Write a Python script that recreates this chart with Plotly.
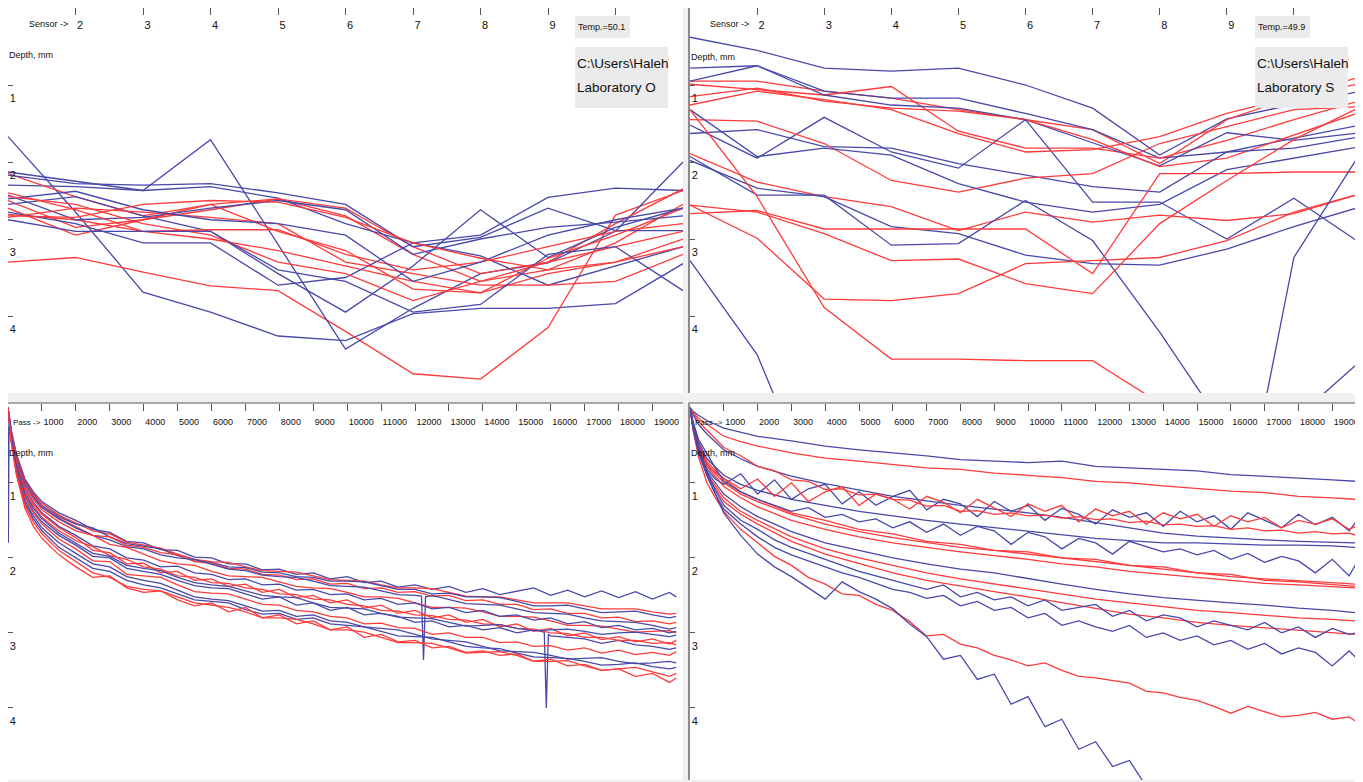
import plotly.graph_objects as go

W, H = 1363, 782
OFF = 8  # page offset of the figure inside the browser page
FONT = "Liberation Sans, Arial, sans-serif"
BLUE = "#4848aa"
RED = "#ff3a3a"

# ---------------- top panels: depth per sensor ----------------
SENSORS = [1, 2, 3, 4, 5, 6, 7, 8, 9, 10, 11]
SENSOR_TICKS = [2, 3, 4, 5, 6, 7, 8, 9, 10]
SENSOR_TICK_TEXT = ["2", "3", "4", "5", "6", "7", "8", "9", ""]  # "10" sits under the Temp box
DEPTH_TICKS = [1, 2, 3, 4]

TL_BLUE = [
    [1.67, 2.65, 3.69, 3.95, 4.26, 4.32, 3.97, 3.90, 3.90, 3.84, 3.32],
    [2.30, 2.32, 2.37, 1.71, 3.07, 4.43, 3.90, 3.45, 3.31, 2.90, 2.00],
    [2.13, 2.25, 2.37, 2.32, 2.47, 2.80, 3.05, 2.95, 2.46, 2.34, 2.37],
    [2.55, 2.45, 2.70, 2.90, 3.45, 3.95, 3.35, 2.62, 3.24, 2.85, 2.60],
    [2.17, 2.28, 2.30, 2.28, 2.40, 2.55, 3.10, 2.98, 2.60, 2.89, 2.89],
    [2.43, 2.75, 2.72, 2.60, 2.50, 2.62, 3.20, 3.00, 2.85, 2.78, 2.70],
    [2.65, 2.80, 3.05, 3.05, 3.60, 3.50, 3.05, 3.22, 3.60, 3.35, 3.10],
    [2.48, 2.38, 2.62, 2.75, 2.80, 2.95, 3.55, 3.30, 2.95, 2.75, 2.60],
    [2.75, 2.90, 2.90, 2.90, 3.40, 3.55, 3.95, 3.85, 3.20, 3.10, 3.67],
]
TL_RED = [
    [3.30, 3.24, 3.43, 3.61, 3.67, 4.20, 4.75, 4.82, 4.15, 2.69, 2.37],
    [2.15, 2.45, 2.70, 2.55, 2.48, 2.70, 3.20, 3.55, 3.40, 3.05, 2.55],
    [2.50, 2.85, 2.75, 2.62, 2.48, 2.60, 3.10, 3.45, 3.30, 2.80, 2.35],
    [2.68, 2.75, 2.90, 2.88, 2.88, 3.20, 3.40, 3.30, 3.10, 2.90, 2.80],
    [2.60, 2.95, 2.75, 2.55, 2.90, 3.15, 3.65, 3.70, 3.25, 2.95, 2.60],
    [2.40, 2.62, 2.90, 3.00, 3.15, 3.35, 3.55, 3.70, 3.45, 3.30, 3.00],
    [2.72, 2.60, 2.65, 2.72, 2.80, 3.30, 3.45, 3.60, 3.60, 3.55, 3.20],
    [2.45, 2.55, 2.80, 2.95, 3.30, 3.45, 3.80, 3.55, 3.30, 3.10, 2.90],
    [2.70, 2.72, 2.55, 2.50, 2.52, 2.72, 3.05, 3.25, 3.40, 3.30, 3.10],
]

TR_BLUE = [
    [0.38, 0.55, 0.78, 0.82, 0.78, 1.00, 1.30, 1.91, 1.44, 1.25, 1.08],
    [0.78, 0.75, 1.08, 1.17, 1.17, 1.37, 1.58, 1.95, 1.87, 1.69, 1.52],
    [0.95, 0.75, 1.13, 1.26, 1.30, 1.45, 1.75, 2.05, 1.62, 1.72, 1.62],
    [1.52, 1.95, 1.42, 1.87, 2.08, 1.45, 2.52, 2.52, 3.00, 2.47, 3.06],
    [1.63, 1.58, 1.80, 1.82, 2.02, 2.17, 2.32, 2.39, 1.87, 1.82, 1.67],
    [1.32, 1.93, 1.82, 1.91, 2.28, 2.52, 2.65, 2.55, 2.10, 1.95, 1.80],
    [1.98, 2.34, 2.45, 2.84, 2.93, 3.21, 3.32, 3.34, 3.13, 2.84, 2.58],
    [1.93, 2.43, 2.43, 3.08, 3.06, 2.50, 3.02, 4.21, 5.50, 5.35, 4.58],
    [3.28, 4.50, 6.60, 7.50, 7.80, 8.00, 8.00, 8.00, 7.64, 3.24, 1.87],
]
TR_RED = [
    [0.95, 0.95, 1.08, 1.17, 1.32, 1.45, 1.58, 2.02, 1.45, 1.15, 0.89],
    [0.99, 1.06, 1.13, 1.02, 1.60, 1.82, 1.82, 1.95, 1.72, 1.45, 1.20],
    [1.15, 1.04, 1.21, 1.30, 1.34, 1.45, 1.71, 2.06, 1.95, 1.65, 1.35],
    [1.26, 1.08, 1.19, 1.32, 1.63, 1.87, 1.84, 1.67, 1.37, 1.15, 0.98],
    [1.45, 1.47, 1.76, 2.24, 2.39, 2.21, 2.15, 1.76, 1.54, 1.32, 1.28],
    [1.89, 2.26, 2.45, 2.58, 2.89, 2.65, 2.78, 2.69, 2.76, 2.67, 2.41],
    [2.56, 2.99, 3.78, 3.80, 3.71, 3.32, 3.28, 3.24, 3.02, 2.65, 2.41],
    [2.67, 2.63, 2.87, 2.87, 2.87, 2.87, 3.45, 2.15, 2.15, 2.13, 2.13],
    [2.56, 2.65, 2.93, 3.28, 3.26, 3.58, 3.71, 2.80, 2.24, 1.71, 1.28],
    [1.32, 2.45, 3.89, 4.56, 4.56, 4.58, 4.58, 5.13, 5.80, 6.00, 6.00],
]

# ---------------- bottom panels: depth per pass ----------------
PASS_TICKS = list(range(1000, 20000, 1000))
PASS_COARSE = [0, 100, 250, 500, 1000, 1500, 2000, 3000, 4000, 5000, 6000, 7000,
               8000, 9000, 10000, 11000, 12000, 13000, 14000, 15000, 16000, 17000,
               18000, 19000, 19700]
PASS_FINE = [0, 100, 250, 500, 750, 1000, 1500, 2000, 2500, 3000, 3500, 4000, 4500,
             5000, 5500, 6000, 6500, 7000, 7500, 8000, 8500, 9000, 9500, 10000,
             10500, 11000, 11500, 12000, 12500, 13000, 13500, 14000, 14500, 15000,
             15500, 16000, 16500, 17000, 17500, 18000, 18500, 19000, 19500, 19700]

BL_BLUE = [
    [0, 0.30, 0.62, 0.95, 1.12, 1.25, 1.40, 1.50, 1.62, 1.66, 1.78, 1.80, 1.89, 1.90, 1.99, 2.00, 2.08, 2.08, 2.16, 2.15, 2.22, 2.20, 2.28, 2.25, 2.33, 2.31, 2.39, 2.36, 2.42, 2.38, 2.46, 2.41, 2.49, 2.45, 2.40, 2.50, 2.43, 2.52, 2.44, 2.53, 2.45, 2.55, 2.46, 2.52],
    [0, 0.33, 0.65, 0.98, 1.16, 1.30, 1.45, 1.55, 1.60, 1.72, 1.81, 1.85, 1.88, 1.97, 2.04, 2.06, 2.12, 2.13, 2.19, 2.20, 2.25, 2.26, 2.31, 2.31, 2.32, 2.37, 2.42, 2.42, 2.48, 2.47, 2.52, 2.52, 2.53, 2.58, 2.64, 2.64, 2.63, 2.68, 2.73, 2.72, 2.71, 2.76, 2.80, 2.78],
    [0, 0.35, 0.68, 1.02, 1.20, 1.33, 1.48, 1.60, 1.70, 1.76, 1.85, 1.88, 1.96, 2.00, 2.02, 2.09, 2.15, 2.17, 2.23, 2.25, 2.26, 2.31, 2.37, 2.38, 2.39, 2.44, 2.49, 2.50, 2.50, 2.55, 2.61, 2.62, 2.63, 2.68, 2.73, 2.74, 2.75, 2.80, 2.84, 2.85, 2.86, 2.90, 2.95, 2.93],
    [0, 0.38, 0.72, 1.08, 1.26, 1.40, 1.58, 1.70, 1.84, 1.88, 2.00, 2.03, 2.12, 2.11, 2.20, 2.22, 2.29, 2.28, 2.36, 2.35, 2.43, 2.42, 2.49, 2.48, 2.56, 2.54, 2.62, 2.60, 2.68, 2.66, 2.73, 2.70, 2.78, 2.76, 2.83, 2.80, 2.88, 2.85, 2.93, 2.90, 2.96, 2.94, 3.00, 2.98],
    [0, 0.42, 0.80, 1.18, 1.38, 1.52, 1.70, 1.83, 1.98, 2.00, 2.14, 2.18, 2.22, 2.30, 2.37, 2.40, 2.41, 2.48, 2.55, 2.52, 2.63, 2.60, 2.70, 2.66, 2.76, 2.74, 2.78, 2.86, 2.84, 2.92, 2.90, 2.96, 2.93, 3.00, 2.96, 3.04, 3.06, 3.08, 3.14, 3.10, 3.16, 3.18, 3.22, 3.20],
    [0, 0.44, 0.84, 1.24, 1.44, 1.60, 1.80, 1.94, 2.08, 2.12, 2.25, 2.30, 2.34, 2.43, 2.52, 2.55, 2.57, 2.64, 2.71, 2.70, 2.78, 2.76, 2.84, 2.86, 2.92, 2.94, 2.96, 3.02, 3.08, 3.10, 3.12, 3.18, 3.24, 3.25, 3.26, 3.30, 3.35, 3.34, 3.33, 3.38, 3.41, 3.40, 3.38, 3.40],
    [0, 0.45, 0.86, 1.27, 1.48, 1.64, 1.86, 2.00, 2.14, 2.18, 2.30, 2.36, 2.40, 2.48, 2.56, 2.58, 2.60, 2.69, 2.75, 2.74, 2.82, 2.80, 2.88, 2.90, 2.92, 2.98, 3.04, 3.05, 3.06, 3.12, 3.18, 3.20, 3.21, 3.27, 3.32, 3.33, 3.34, 3.38, 3.43, 3.42, 3.40, 3.45, 3.48, 3.46],
    [0, 0.40, 0.78, 1.15, 1.34, 1.48, 1.67, 1.80, 1.94, 1.98, 2.10, 2.14, 2.17, 2.26, 2.33, 2.36, 2.38, 2.44, 2.50, 2.52, 2.53, 2.60, 2.66, 2.67, 2.68, 2.74, 2.79, 2.80, 2.81, 2.86, 2.91, 2.90, 2.89, 2.94, 2.97, 2.96, 2.95, 2.98, 3.02, 3.00, 2.99, 3.02, 3.05, 3.03],
]
BL_RED = [
    [0, 0.32, 0.63, 0.97, 1.14, 1.27, 1.43, 1.53, 1.64, 1.68, 1.79, 1.83, 1.87, 1.95, 2.02, 2.05, 2.06, 2.12, 2.17, 2.18, 2.19, 2.24, 2.29, 2.30, 2.31, 2.36, 2.40, 2.40, 2.41, 2.46, 2.51, 2.52, 2.52, 2.56, 2.60, 2.60, 2.60, 2.64, 2.68, 2.68, 2.68, 2.72, 2.75, 2.74],
    [0, 0.34, 0.66, 1.00, 1.18, 1.32, 1.47, 1.58, 1.70, 1.72, 1.83, 1.86, 1.93, 1.96, 2.05, 2.07, 2.14, 2.15, 2.22, 2.23, 2.29, 2.28, 2.35, 2.34, 2.41, 2.40, 2.46, 2.45, 2.51, 2.50, 2.57, 2.56, 2.62, 2.62, 2.69, 2.68, 2.74, 2.74, 2.80, 2.79, 2.85, 2.84, 2.88, 2.86],
    [0, 0.36, 0.70, 1.05, 1.22, 1.36, 1.52, 1.64, 1.70, 1.82, 1.86, 1.95, 2.04, 2.08, 2.10, 2.18, 2.24, 2.25, 2.26, 2.32, 2.38, 2.40, 2.41, 2.46, 2.52, 2.52, 2.54, 2.60, 2.66, 2.66, 2.67, 2.72, 2.78, 2.78, 2.79, 2.84, 2.90, 2.90, 2.91, 2.95, 2.99, 2.98, 2.97, 3.00],
    [0, 0.38, 0.74, 1.10, 1.28, 1.42, 1.60, 1.73, 1.90, 1.93, 2.08, 2.07, 2.20, 2.18, 2.30, 2.28, 2.38, 2.35, 2.46, 2.42, 2.53, 2.50, 2.60, 2.56, 2.67, 2.63, 2.74, 2.70, 2.80, 2.76, 2.86, 2.82, 2.92, 2.88, 2.98, 2.94, 3.04, 3.00, 3.09, 3.05, 3.12, 3.08, 3.15, 3.10],
    [0, 0.40, 0.76, 1.13, 1.31, 1.46, 1.64, 1.77, 1.85, 1.97, 2.02, 2.12, 2.15, 2.24, 2.26, 2.33, 2.34, 2.40, 2.42, 2.48, 2.49, 2.55, 2.56, 2.62, 2.64, 2.70, 2.71, 2.76, 2.77, 2.82, 2.83, 2.88, 2.89, 2.94, 2.95, 3.00, 3.01, 3.06, 3.06, 3.10, 3.10, 3.14, 3.13, 3.16],
    [0, 0.42, 0.82, 1.20, 1.40, 1.55, 1.75, 1.88, 2.04, 2.05, 2.22, 2.24, 2.26, 2.36, 2.45, 2.47, 2.48, 2.55, 2.62, 2.63, 2.70, 2.72, 2.78, 2.80, 2.88, 2.87, 2.93, 2.94, 3.02, 3.00, 3.06, 3.06, 3.13, 3.12, 3.18, 3.17, 3.23, 3.20, 3.27, 3.23, 3.29, 3.26, 3.30, 3.25],
    [0, 0.46, 0.88, 1.30, 1.52, 1.68, 1.90, 2.05, 2.20, 2.26, 2.38, 2.42, 2.44, 2.52, 2.60, 2.63, 2.66, 2.72, 2.80, 2.80, 2.82, 2.88, 2.96, 2.96, 2.99, 3.06, 3.13, 3.13, 3.14, 3.20, 3.27, 3.26, 3.25, 3.30, 3.38, 3.38, 3.37, 3.44, 3.50, 3.48, 3.46, 3.52, 3.58, 3.54],
    [0, 0.48, 0.90, 1.34, 1.58, 1.74, 1.96, 2.12, 2.26, 2.24, 2.40, 2.46, 2.44, 2.56, 2.64, 2.60, 2.72, 2.66, 2.80, 2.76, 2.88, 2.84, 2.96, 2.92, 3.06, 3.02, 3.12, 3.10, 3.20, 3.18, 3.26, 3.24, 3.30, 3.28, 3.38, 3.35, 3.44, 3.42, 3.50, 3.48, 3.58, 3.54, 3.66, 3.60],
]
# extra readings on individual blue curves (curve index, [(pass, depth), ...])
BL_SPIKES = [
    (2, [(12190, 2.51), (12250, 3.36), (12310, 2.52)]),
    (4, [(15810, 2.99), (15870, 4.00), (15930, 3.02)]),
    (5, [(10, 1.80), (30, 0.25)]),
]

BR_BLUE_COARSE = [
    [0, 0.05, 0.10, 0.17, 0.27, 0.33, 0.38, 0.44, 0.51, 0.56, 0.60, 0.64, 0.69, 0.71, 0.73, 0.71, 0.78, 0.80, 0.82, 0.84, 0.89, 0.91, 0.93, 0.96, 0.98],
    [0, 0.10, 0.22, 0.35, 0.56, 0.68, 0.78, 0.91, 1.01, 1.10, 1.18, 1.24, 1.30, 1.35, 1.40, 1.46, 1.53, 1.60, 1.67, 1.71, 1.74, 1.76, 1.78, 1.79, 1.80],
    [0, 0.22, 0.45, 0.68, 0.90, 1.02, 1.10, 1.22, 1.30, 1.38, 1.44, 1.50, 1.55, 1.60, 1.65, 1.70, 1.74, 1.77, 1.80, 1.80, 1.82, 1.83, 1.83, 1.84, 1.86],
    [0, 0.27, 0.55, 0.85, 1.15, 1.32, 1.45, 1.65, 1.80, 1.90, 2.00, 2.08, 2.15, 2.20, 2.28, 2.35, 2.42, 2.48, 2.53, 2.57, 2.60, 2.63, 2.67, 2.70, 2.73],
]
BR_RED_COARSE = [
    [0, 0.07, 0.14, 0.22, 0.38, 0.45, 0.51, 0.60, 0.67, 0.71, 0.76, 0.80, 0.82, 0.87, 0.90, 0.93, 0.98, 1.00, 1.04, 1.07, 1.11, 1.13, 1.18, 1.20, 1.22],
    [0, 0.25, 0.50, 0.75, 1.00, 1.15, 1.25, 1.42, 1.55, 1.65, 1.73, 1.80, 1.86, 1.90, 1.95, 2.00, 2.05, 2.10, 2.15, 2.20, 2.25, 2.28, 2.30, 2.33, 2.35],
    [0, 0.26, 0.52, 0.78, 1.05, 1.20, 1.32, 1.50, 1.62, 1.72, 1.80, 1.86, 1.92, 1.97, 2.02, 2.08, 2.12, 2.18, 2.22, 2.26, 2.30, 2.34, 2.36, 2.38, 2.40],
    [0, 0.24, 0.48, 0.72, 0.95, 1.12, 1.22, 1.40, 1.50, 1.62, 1.68, 1.78, 1.82, 1.90, 1.92, 2.00, 2.02, 2.10, 2.12, 2.20, 2.22, 2.30, 2.32, 2.36, 2.38],
    [0, 0.28, 0.57, 0.88, 1.20, 1.38, 1.50, 1.72, 1.88, 2.00, 2.10, 2.20, 2.28, 2.35, 2.42, 2.48, 2.55, 2.60, 2.65, 2.70, 2.73, 2.77, 2.80, 2.82, 2.84],
    [0, 0.29, 0.58, 0.90, 1.25, 1.42, 1.55, 1.78, 1.95, 2.08, 2.20, 2.30, 2.38, 2.45, 2.52, 2.60, 2.67, 2.75, 2.80, 2.86, 2.90, 2.93, 2.96, 3.00, 3.02],
]
BR_BLUE_FINE = [
    [0, 0.30, 0.58, 0.82, 0.95, 1.02, 0.88, 1.15, 0.96, 1.22, 1.08, 1.02, 1.28, 1.12, 1.30, 1.18, 1.10, 1.36, 1.22, 1.28, 1.45, 1.25, 1.38, 1.30, 1.50, 1.34, 1.42, 1.55, 1.36, 1.46, 1.40, 1.58, 1.38, 1.52, 1.44, 1.62, 1.40, 1.50, 1.60, 1.42, 1.56, 1.46, 1.64, 1.52],
    [0, 0.20, 0.42, 0.62, 0.80, 0.98, 1.12, 1.22, 1.30, 1.38, 1.33, 1.46, 1.42, 1.52, 1.48, 1.60, 1.52, 1.66, 1.55, 1.70, 1.58, 1.64, 1.82, 1.66, 1.72, 1.88, 1.74, 1.80, 1.95, 1.78, 1.85, 1.92, 1.88, 1.96, 1.90, 2.02, 1.94, 2.06, 1.98, 2.04, 2.20, 2.02, 2.24, 2.08],
    [0, 0.25, 0.50, 0.85, 1.10, 1.30, 1.50, 1.62, 1.76, 1.86, 1.94, 2.02, 2.10, 2.18, 2.24, 2.30, 2.36, 2.42, 2.36, 2.52, 2.46, 2.56, 2.52, 2.64, 2.56, 2.70, 2.66, 2.62, 2.78, 2.70, 2.84, 2.76, 2.80, 2.92, 2.84, 2.90, 2.96, 2.86, 3.00, 2.92, 3.06, 2.94, 3.02, 3.00],
    [0, 0.27, 0.55, 0.90, 1.15, 1.35, 1.55, 1.72, 1.86, 1.96, 2.04, 2.12, 2.20, 2.26, 2.34, 2.42, 2.46, 2.54, 2.50, 2.64, 2.58, 2.70, 2.66, 2.80, 2.74, 2.90, 2.84, 2.92, 2.98, 2.90, 3.06, 3.00, 3.10, 3.04, 3.16, 3.10, 3.22, 3.14, 3.28, 3.20, 3.26, 3.44, 3.24, 3.33],
    [0, 0.30, 0.60, 0.90, 1.15, 1.40, 1.70, 1.95, 2.12, 2.25, 2.40, 2.55, 2.32, 2.45, 2.55, 2.68, 2.88, 3.05, 3.35, 3.30, 3.62, 3.55, 3.95, 3.85, 4.25, 4.15, 4.55, 4.45, 4.78, 4.70, 5.05, 5.10, 5.20, 5.30, 5.40, 5.50, 5.60, 5.70, 5.80, 5.90, 6.00, 6.10, 6.20, 6.25],
]
BR_RED_FINE = [
    [0, 0.28, 0.55, 0.78, 0.86, 0.94, 1.08, 0.95, 1.18, 1.00, 1.25, 1.12, 1.05, 1.30, 1.15, 1.22, 1.35, 1.18, 1.26, 1.40, 1.22, 1.34, 1.45, 1.28, 1.38, 1.30, 1.52, 1.35, 1.44, 1.38, 1.55, 1.40, 1.48, 1.42, 1.58, 1.44, 1.52, 1.46, 1.60, 1.50, 1.55, 1.48, 1.62, 1.58],
    [0, 0.08, 0.18, 0.30, 0.42, 0.53, 0.64, 0.78, 0.84, 0.96, 0.98, 1.09, 1.08, 1.16, 1.15, 1.22, 1.23, 1.31, 1.30, 1.38, 1.37, 1.42, 1.40, 1.44, 1.43, 1.47, 1.45, 1.49, 1.48, 1.53, 1.51, 1.56, 1.55, 1.58, 1.57, 1.62, 1.60, 1.64, 1.63, 1.67, 1.65, 1.68, 1.67, 1.70],
    [0, 0.32, 0.65, 1.00, 1.20, 1.38, 1.62, 1.80, 1.98, 2.10, 2.26, 2.35, 2.48, 2.50, 2.62, 2.70, 2.85, 3.04, 3.02, 3.15, 3.20, 3.30, 3.36, 3.44, 3.40, 3.50, 3.58, 3.60, 3.64, 3.67, 3.78, 3.80, 3.86, 3.90, 3.98, 4.07, 3.98, 4.05, 4.12, 4.10, 4.06, 4.15, 4.12, 4.18],
]


def px_x(v):
    return (v - OFF) / W


def px_y(v):
    return 1 - (v - OFF) / H


fig = go.Figure()

# panel rectangles in page pixels: (left, right, top, bottom)
PANELS = {
    "TL": (8, 683, 8, 393),
    "TR": (690, 1361, 8, 393),
    "BL": (8, 683, 404, 780),
    "BR": (690, 1361, 404, 780),
}
AX = {"TL": ("x", "y"), "TR": ("x2", "y2"), "BL": ("x3", "y3"), "BR": ("x4", "y4")}


def add_line(panel, xs, ys, col):
    xa, ya = AX[panel]
    fig.add_trace(go.Scatter(x=xs, y=ys, mode="lines", xaxis=xa, yaxis=ya,
                             line=dict(color=col, width=1.3), showlegend=False,
                             hoverinfo="skip"))


def add_lines(panel, xs, blues, reds):
    for i in range(max(len(blues), len(reds))):
        if i < len(blues):
            add_line(panel, xs, blues[i], BLUE)
        if i < len(reds):
            add_line(panel, xs, reds[i], RED)


add_lines("TL", SENSORS, TL_BLUE, TL_RED)
add_lines("TR", SENSORS, TR_BLUE, TR_RED)

# bottom-left, with the extra readings merged into their curves
for i in range(max(len(BL_BLUE), len(BL_RED))):
    if i < len(BL_BLUE):
        pts = list(zip(PASS_FINE, BL_BLUE[i]))
        for idx, extra in BL_SPIKES:
            if idx == i:
                pts += extra
        pts.sort(key=lambda p: p[0])
        add_line("BL", [p[0] for p in pts], [p[1] for p in pts], BLUE)
    if i < len(BL_RED):
        add_line("BL", PASS_FINE, BL_RED[i], RED)

add_lines("BR", PASS_COARSE, BR_BLUE_COARSE, BR_RED_COARSE)
add_lines("BR", PASS_FINE, BR_BLUE_FINE, BR_RED_FINE)


def xaxis_cfg(panel, rng, tickvals, ticktext, size, standoff):
    l, r, t, b = PANELS[panel]
    return dict(domain=[px_x(l), px_x(r)], range=rng, side="top",
                anchor=AX[panel][1], ticks="inside", ticklen=7, tickwidth=1,
                tickcolor="#555", tickvals=tickvals, ticktext=ticktext,
                tickangle=0, ticklabelposition="inside right",
                ticklabelstandoff=standoff,
                tickfont=dict(family=FONT, size=size, color="#111"),
                showline=True, linecolor="#a8a8a8", linewidth=2,
                showgrid=False, zeroline=False, fixedrange=True)


def yaxis_cfg(panel, rng):
    l, r, t, b = PANELS[panel]
    return dict(domain=[px_y(b), px_y(t)], range=rng,
                anchor=AX[panel][0], ticks="inside", ticklen=5, tickwidth=1,
                tickcolor="#555", tickvals=DEPTH_TICKS,
                ticktext=[str(v) for v in DEPTH_TICKS],
                ticklabelposition="inside bottom", ticklabelshift=-5,
                tickfont=dict(family=FONT, size=11, color="#111"),
                showline=True, linecolor="#8c8c8c", linewidth=2,
                showgrid=False, zeroline=False, fixedrange=True)


PASS_TEXT = [str(v) for v in PASS_TICKS]
layout = dict(
    width=W, height=H, margin=dict(l=0, r=0, t=0, b=0),
    paper_bgcolor="#f0f0f0", plot_bgcolor="white", showlegend=False,
    xaxis=xaxis_cfg("TL", [1, 11], SENSOR_TICKS, SENSOR_TICK_TEXT, 11, 9),
    yaxis=yaxis_cfg("TL", [5.0, 0.0]),
    xaxis2=xaxis_cfg("TR", [1, 11], SENSOR_TICKS, SENSOR_TICK_TEXT, 11, 9),
    yaxis2=yaxis_cfg("TR", [5.0, 0.0]),
    xaxis3=xaxis_cfg("BL", [0, 19900], PASS_TICKS, PASS_TEXT, 9, 11),
    yaxis3=yaxis_cfg("BL", [4.96, -0.05]),
    xaxis4=xaxis_cfg("BR", [0, 19850], PASS_TICKS, PASS_TEXT, 9, 11),
    yaxis4=yaxis_cfg("BR", [4.96, -0.05]),
)
fig.update_layout(**layout)

ann = []
shapes = []


def label(text, x, y, size=9, width=None):
    a = dict(text=text, x=px_x(x), y=px_y(y), xref="paper", yref="paper",
             xanchor="left", yanchor="middle", showarrow=False, align="left",
             font=dict(family=FONT, size=size, color="#111"))
    if width:
        a["width"] = width
    ann.append(a)


def box(x0, y0, x1, y1):
    shapes.append(dict(type="rect", xref="paper", yref="paper", layer="above",
                       x0=px_x(x0), x1=px_x(x1), y0=px_y(y1), y1=px_y(y0),
                       fillcolor="#ebebeb", line=dict(width=0)))


label("Sensor ->", 27, 24)
label("Sensor ->", 708, 24)
label("Depth, mm", 7, 55)
label("Depth, mm", 689, 57)
label("Pass ->", 11, 422, 8)
label("Pass ->", 693, 422, 8)
label("Depth, mm", 7, 453)
label("Depth, mm", 689, 453)

for (x0, temp, lab) in ((575, "Temp.=50.1", "Laboratory O"),
                        (1255, "Temp.=49.9", "Laboratory S")):
    box(x0, 16, x0 + 55, 38)
    box(x0, 47, x0 + 93, 108)
    label(temp, x0 + 1, 27, 9, 52)
    label("C:\\Users\\Haleh\\Data", x0, 63, 13.5, 92)
    label(lab, x0, 88, 13.5, 92)

fig.update_layout(annotations=ann, shapes=shapes)

fig.write_html("out.html")
